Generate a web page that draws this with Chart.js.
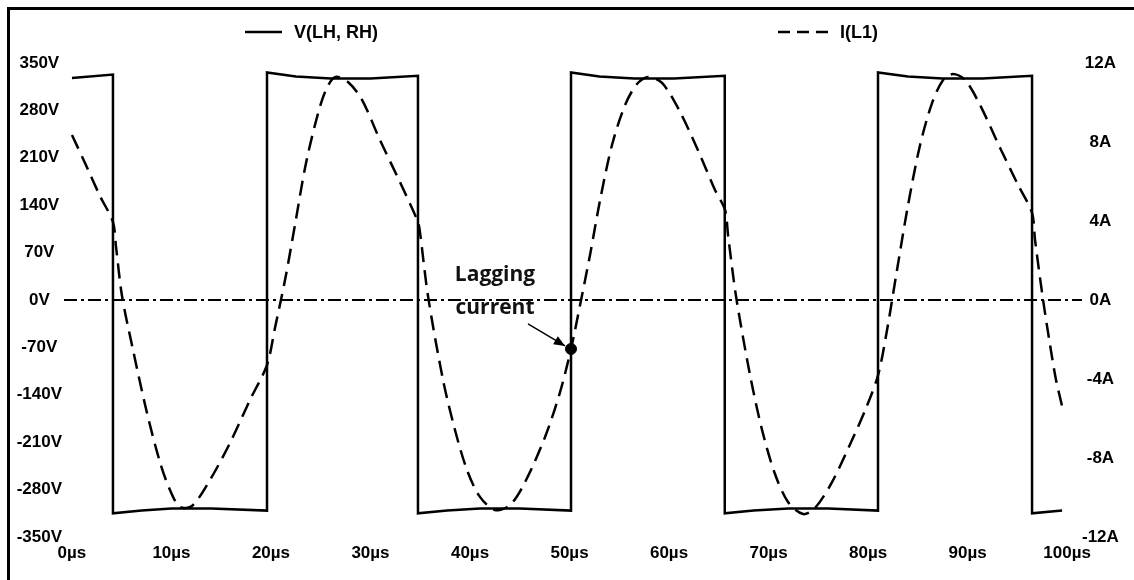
<!DOCTYPE html>
<html>
<head>
<meta charset="utf-8">
<script src="https://cdn.jsdelivr.net/npm/chart.js"></script>
<style>
    body { margin: 0; background: #fff; }
    .wrap { position: relative; width: 1134px; height: 580px; overflow: hidden; }
    .frame { position: absolute; left: 7px; top: 7px; width: 1200px; height: 700px;
             border-left: 3px solid #000; border-top: 3px solid #000; }
    .chart-box { position: absolute; left: 0; top: 0; width: 1134px; height: 580px; }
</style>
</head>
<body>
<div class="wrap">
    <div class="frame"></div>
    <div class="chart-box"><canvas id="waveChart"></canvas></div>
</div>
<script>
    // V(LH, RH) square wave, time in µs
    var voltTime  = [0, 4.12, 4.12, 7, 10, 14, 19.6, 19.6, 22.5, 26, 30, 34.77, 34.77, 37.7, 41, 45, 50.15, 50.15,
                     53, 56.5, 60.5, 65.6, 65.6, 68.5, 72, 76, 81.0, 81.0, 84, 87.5, 91.5, 96.48, 96.48, 99.5];
    var voltValue = [328, 333, -315, -311, -308, -308, -311, 336, 330, 327, 327, 331, -315, -311, -308, -308, -311, 336,
                     330, 327, 327, 331, -315, -311, -308, -308, -311, 336, 330, 327, 327, 331, -315, -311];

    // I(L1) current, time in µs
    var curTime  = [0, 1.31, 2.81, 4.12, 4.42, 5.03, 6.03, 7.54, 8.84, 9.85, 10.85, 12.06, 13.87, 15.88, 17.89,
                    19.6, 20.4, 21.41, 22.41, 23.42, 24.42, 25.43, 26.43, 27.74, 29.15, 30.95, 32.96,
                    34.77, 34.97, 35.78, 37.29, 38.49, 39.7, 41.0, 42.51, 44.02, 45.53, 47.54, 49.05,
                    50.15, 51.06, 52.06, 53.07, 54.27, 55.58, 56.78, 57.89, 59.3, 61.11, 63.12, 64.62,
                    65.63, 65.93, 66.73, 68.14, 69.35, 70.65, 71.96, 73.47, 74.67, 76.38, 78.39, 79.8,
                    81.01, 81.91, 82.91, 84.02, 85.23, 86.43, 87.54, 88.54, 89.75, 91.26, 93.27, 95.08,
                    96.48, 96.78, 97.59, 98.29, 98.89, 99.5];
    var curValue = [8.35, 6.94, 5.27, 3.95, 2.73, 0.2, -2.28, -5.72, -8.2, -9.62, -10.48, -10.43, -9.11, -7.24, -5.06,
                    -3.29, -1.42, 1.01, 3.8, 6.68, 8.86, 10.53, 11.29, 11.04, 10.13, 8.1, 5.97,
                    3.95, 3.44, 0.2, -4.05, -6.58, -8.61, -9.97, -10.63, -10.38, -9.22, -6.94, -4.66,
                    -2.48, -0.25, 2.28, 5.06, 7.85, 9.87, 10.94, 11.29, 10.99, 9.52, 7.34, 5.57,
                    4.56, 3.29, 0.2, -3.8, -6.58, -8.81, -10.23, -10.84, -10.53, -9.22, -7.09, -5.47,
                    -3.8, -1.52, 1.52, 4.81, 7.85, 9.97, 11.14, 11.44, 11.14, 9.87, 7.7, 5.82,
                    4.41, 3.04, 0, -2.28, -4.05, -5.37];

    // "Lagging current" marker on I(L1) at the rising edge
    var lagTime = [50.15];
    var lagValue = [-2.48];

    var xTicks = [0, 10, 20, 30, 40, 50, 60, 70, 80, 90, 100];
    var voltTicks = [-350, -280, -210, -140, -70, 0, 70, 140, 210, 280, 350];
    var currentTicks = [-12, -8, -4, 0, 4, 8, 12];

    function pairs(xs, ys) {
        return xs.map(function (x, i) { return { x: x, y: ys[i] }; });
    }

    var tickFont = { family: '"Liberation Sans", Arial, sans-serif', size: 17, weight: 'bold' };

    // legend with the two entries placed apart, like the original plot
    var splitLegend = {
        id: 'splitLegend',
        afterDraw: function (chart, args, opts) {
            var ctx = chart.ctx;
            ctx.save();
            ctx.font = 'bold 18px "Liberation Sans", Arial, sans-serif';
            ctx.fillStyle = '#000';
            ctx.textBaseline = 'middle';
            opts.items.forEach(function (item) {
                var ds = chart.data.datasets[item.dataset];
                ctx.strokeStyle = '#000';
                ctx.lineWidth = 2.5;
                ctx.setLineDash(item.dash);
                ctx.beginPath();
                ctx.moveTo(item.x, opts.y);
                ctx.lineTo(item.x + item.w, opts.y);
                ctx.stroke();
                ctx.setLineDash([]);
                ctx.fillText(ds.label, item.x + item.w + 12, opts.y + 1);
            });
            ctx.restore();
        }
    };

    // arrow + text pointing to the marker
    var lagNote = {
        id: 'lagNote',
        afterDatasetsDraw: function (chart, args, opts) {
            var p = chart.getDatasetMeta(opts.dataset).data[0];
            if (!p) return;
            var ctx = chart.ctx;
            ctx.save();
            ctx.fillStyle = '#111';
            ctx.font = 'bold 21px "Open Sans", sans-serif';
            ctx.textAlign = 'center';
            ctx.textBaseline = 'middle';
            ctx.fillText('Lagging', p.x - 76, p.y - 74);
            ctx.fillText('current', p.x - 76, p.y - 41);
            var x1 = p.x - 43, y1 = p.y - 25, x2 = p.x - 6, y2 = p.y - 3;
            ctx.strokeStyle = '#000';
            ctx.lineWidth = 1.5;
            ctx.beginPath();
            ctx.moveTo(x1, y1);
            ctx.lineTo(x2, y2);
            ctx.stroke();
            var a = Math.atan2(y2 - y1, x2 - x1);
            ctx.beginPath();
            ctx.moveTo(x2, y2);
            ctx.lineTo(x2 - 12 * Math.cos(a - 0.4), y2 - 12 * Math.sin(a - 0.4));
            ctx.lineTo(x2 - 12 * Math.cos(a + 0.4), y2 - 12 * Math.sin(a + 0.4));
            ctx.closePath();
            ctx.fillStyle = '#000';
            ctx.fill();
            ctx.restore();
        }
    };

    var ctx = document.getElementById('waveChart').getContext('2d');
    new Chart(ctx, {
        type: 'line',
        data: {
            datasets: [{
                label: 'V(LH, RH)',
                data: pairs(voltTime, voltValue),
                yAxisID: 'yV',
                borderColor: '#000',
                borderWidth: 2.5,
                pointRadius: 0,
                tension: 0
            }, {
                label: 'I(L1)',
                data: pairs(curTime, curValue),
                yAxisID: 'yI',
                borderColor: '#000',
                borderWidth: 2.5,
                borderDash: [15, 8],
                pointRadius: 0,
                tension: 0.3
            }, {
                label: 'lag',
                data: pairs(lagTime, lagValue),
                yAxisID: 'yI',
                showLine: false,
                pointRadius: 5.5,
                pointBackgroundColor: '#000',
                pointBorderColor: '#000'
            }]
        },
        options: {
            responsive: true,
            maintainAspectRatio: false,
            animation: false,
            layout: { padding: { top: 63, bottom: 0, left: 0, right: 0 } },
            plugins: {
                legend: { display: false },
                tooltip: { enabled: false },
                splitLegend: {
                    y: 32,
                    items: [
                        { dataset: 0, x: 245, w: 37, dash: [] },
                        { dataset: 1, x: 778, w: 50, dash: [12, 7] }
                    ]
                },
                lagNote: { dataset: 2 }
            },
            scales: {
                x: {
                    type: 'linear',
                    min: -0.8,
                    max: 101.5,
                    afterBuildTicks: function (s) { s.ticks = xTicks.map(function (v) { return { value: v }; }); },
                    afterFit: function (s) { s.height = 43; },
                    grid: { display: false, drawTicks: false },
                    border: { display: false },
                    ticks: {
                        color: '#000', font: tickFont, padding: 6, maxRotation: 0, autoSkip: false,
                        callback: function (v) { return v + 'µs'; }
                    }
                },
                yV: {
                    position: 'left',
                    min: -350,
                    max: 350,
                    afterBuildTicks: function (s) { s.ticks = voltTicks.map(function (v) { return { value: v }; }); },
                    afterFit: function (s) { s.width = 64; },
                    grid: {
                        drawTicks: false,
                        lineWidth: 2,
                        color: function (c) { return c.tick && c.tick.value === 0 ? '#000' : 'rgba(0,0,0,0)'; }
                    },
                    border: { display: false, dash: [13, 4, 3, 4] },
                    ticks: {
                        color: '#000', font: tickFont, crossAlign: 'center', padding: 2,
                        callback: function (v) { return v + 'V'; }
                    }
                },
                yI: {
                    position: 'right',
                    min: -12,
                    max: 12,
                    afterBuildTicks: function (s) { s.ticks = currentTicks.map(function (v) { return { value: v }; }); },
                    afterFit: function (s) { s.width = 52; },
                    grid: { display: false, drawTicks: false },
                    border: { display: false },
                    ticks: {
                        color: '#000', font: tickFont, crossAlign: 'center', padding: 0,
                        callback: function (v) { return v + 'A'; }
                    }
                }
            }
        },
        plugins: [splitLegend, lagNote]
    });
</script>
</body>
</html>
